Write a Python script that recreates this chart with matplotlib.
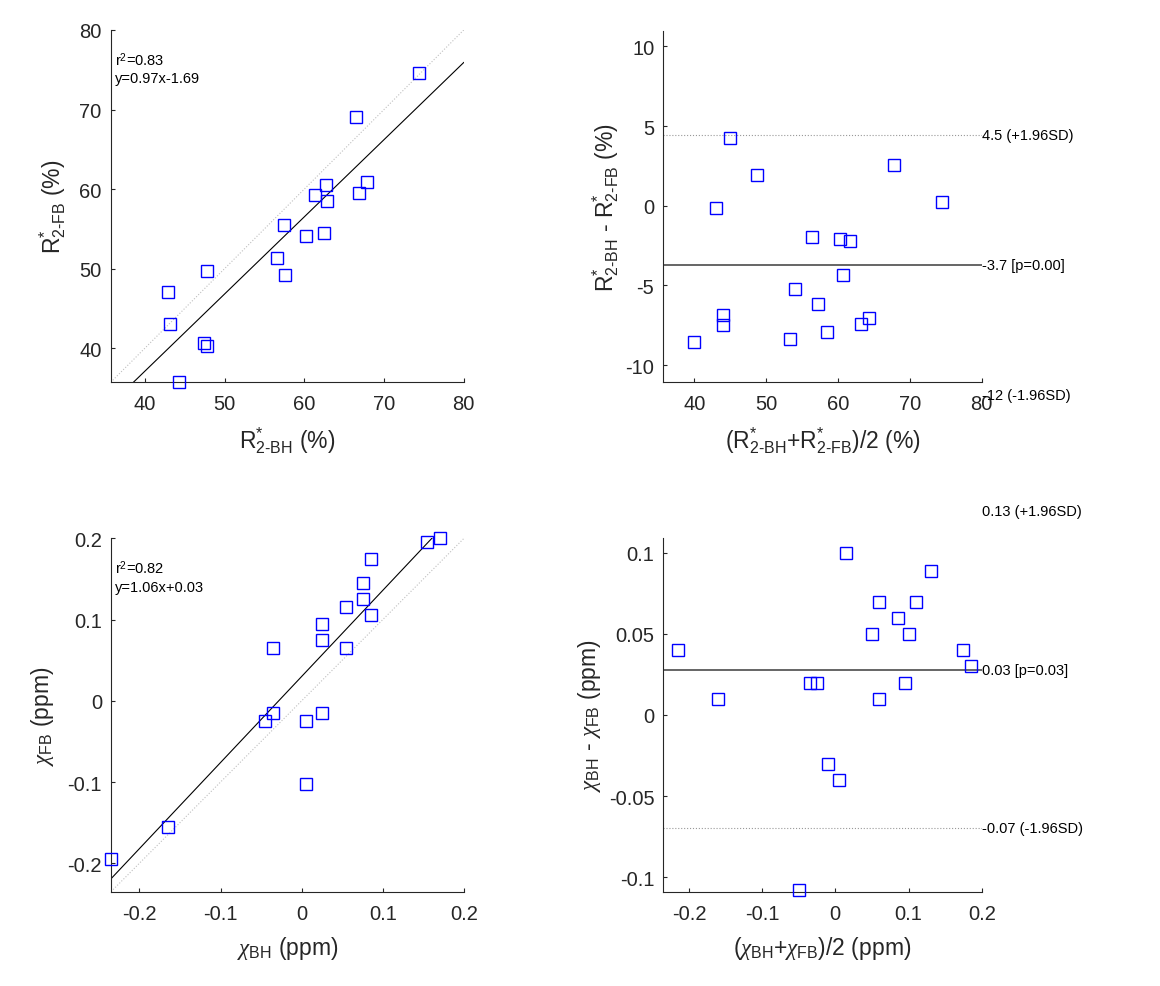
import numpy as np
import matplotlib
matplotlib.use("Agg")
import matplotlib.pyplot as plt

# ---------------- data ----------------
r2_bh = [74.33, 66.53, 67.90, 66.90, 62.73, 61.40, 62.86, 62.44, 60.27,
         57.43, 56.60, 57.56, 47.76, 42.84, 43.17, 47.47, 47.76, 44.25]
r2_fb = [74.56, 69.08, 60.84, 59.50, 60.50, 59.29, 58.49, 54.52, 54.10,
         55.48, 51.38, 49.20, 49.67, 47.07, 43.01, 40.59, 40.29, 35.73]

chi_bh = [0.170, 0.155, 0.086, 0.075, 0.075, 0.085, 0.055, 0.025, 0.025,
          0.055, -0.035, -0.035, -0.045, 0.005, 0.025, 0.005, -0.165, -0.235]
chi_fb = [0.200, 0.195, 0.175, 0.145, 0.125, 0.105, 0.115, 0.095, 0.075,
          0.065, 0.065, -0.015, -0.025, -0.025, -0.015, -0.103, -0.155, -0.195]

r2_fit = (0.97, -1.69)      # slope, intercept
r2_r2 = 0.83
chi_fit = (1.06, 0.03)
chi_r2 = 0.82

# Bland-Altman lines: upper (+1.96SD), mean, lower (-1.96SD)
r2_ba_lines = [4.45, -3.70, -11.85]
chi_ba_lines = [0.126, 0.028, -0.070]
p_values = ["0.00", "0.03"]

r2_ticks = [40, 50, 60, 70, 80]
r2_diff_ticks = [-10, -5, 0, 5, 10]
chi_ticks = [-0.2, -0.1, 0, 0.1, 0.2]
chi_diff_ticks = [-0.1, -0.05, 0, 0.05, 0.1]

# ---------------- style ----------------
plt.rcParams['font.family'] = ['Liberation Sans', 'DejaVu Sans']
plt.rcParams['mathtext.fontset'] = 'custom'
plt.rcParams['mathtext.rm'] = 'Liberation Sans'
plt.rcParams['mathtext.it'] = 'Liberation Serif:italic'
plt.rcParams['mathtext.bf'] = 'Liberation Sans:bold'
plt.rcParams['axes.unicode_minus'] = False

AX_COL = '0.15'
TICK_FS = 14.5
LAB_FS = 16.5
SMALL_FS = 10.5

fig = plt.figure(figsize=(11.6, 9.87), dpi=100)
W, H = 1160.0, 987.0


def make_ax(l, t, r, b):
    return fig.add_axes([l / W, 1 - b / H, (r - l) / W, (b - t) / H])


def style(ax, xt, yt, xl, yl):
    for s in ['top', 'right']:
        ax.spines[s].set_visible(False)
    for s in ['left', 'bottom']:
        ax.spines[s].set_color(AX_COL)
        ax.spines[s].set_linewidth(0.8)
    ax.set_xticks(xt)
    ax.set_yticks(yt)
    ax.set_xticklabels([('%g' % v) for v in xt])
    ax.set_yticklabels([('%g' % v) for v in yt])
    ax.tick_params(direction='in', length=3, width=0.8, colors=AX_COL,
                   labelsize=TICK_FS, labelcolor='0.15')
    ax.tick_params(axis='x', pad=8.5)
    ax.tick_params(axis='y', pad=6.5)
    ax.set_xlim(xl)
    ax.set_ylim(yl)


def scatter(ax, x, y):
    ax.plot(x, y, linestyle='none', marker='s', ms=8.6, mfc='none',
            mec='blue', mew=1.0, clip_on=False, zorder=3)


def corr_panel(ax, x, y, fit, r2, lim, ticks, xlabel, ylabel, ypad):
    style(ax, ticks, ticks, lim, lim)
    xs = np.array(lim)
    ax.plot(xs, xs, linestyle=':', color='0.75', lw=0.8, zorder=1)
    ax.plot(xs, fit[0] * xs + fit[1], color='k', lw=0.8, zorder=2)
    scatter(ax, x, y)
    sign = '+' if fit[1] >= 0 else '-'
    ax.text(0.012, 0.918, r'r$^{2}$=%.2f' % r2, transform=ax.transAxes,
            fontsize=SMALL_FS, va='center', ha='left')
    ax.text(0.012, 0.863, 'y=%.2fx%s%.2f' % (fit[0], sign, abs(fit[1])),
            transform=ax.transAxes, fontsize=SMALL_FS, va='center', ha='left')
    ax.set_xlabel(xlabel, fontsize=LAB_FS, color='0.15', labelpad=8)
    ax.set_ylabel(ylabel, fontsize=LAB_FS, color='0.15', labelpad=ypad)


def ba_panel(ax, a, b, lines, xlim, ylim, xt, yt, fmt, pval, xlabel, ylabel, ypad):
    a = np.asarray(a)
    b = np.asarray(b)
    m = (a + b) / 2
    d = b - a
    up, mu, lo = lines
    style(ax, xt, yt, xlim, ylim)
    ax.plot(xlim, [mu, mu], color='0.35', lw=1.3, zorder=1)
    ax.plot(xlim, [up, up], color='0.6', lw=0.8, linestyle=':', zorder=1)
    ax.plot(xlim, [lo, lo], color='0.6', lw=0.8, linestyle=':', zorder=1)
    scatter(ax, m, d)
    kw = dict(fontsize=SMALL_FS, va='center', ha='left', clip_on=False)
    ax.text(xlim[1], up, (fmt % up) + ' (+1.96SD)', **kw)
    ax.text(xlim[1], mu, (fmt % mu) + ' [p=%s]' % pval, **kw)
    ax.text(xlim[1], lo, (fmt % lo) + ' (-1.96SD)', **kw)
    ax.set_xlabel(xlabel, fontsize=LAB_FS, color='0.15', labelpad=8)
    ax.set_ylabel(ylabel, fontsize=LAB_FS, color='0.15', labelpad=ypad)


R_BH = r'R$^{*}_{\mathrm{2\text{-}BH}}$'
R_FB = r'R$^{*}_{\mathrm{2\text{-}FB}}$'
C_BH = r'$\chi_{\mathrm{BH}}$'
C_FB = r'$\chi_{\mathrm{FB}}$'

ax1 = make_ax(110.7, 31, 463.7, 383.3)
corr_panel(ax1, r2_bh, r2_fb, r2_fit, r2_r2, (35.7, 80), r2_ticks,
           R_BH + ' (%)', R_FB + ' (%)', 8)

ax2 = make_ax(663.3, 31.5, 981.7, 383.3)
ba_panel(ax2, r2_bh, r2_fb, r2_ba_lines, (35.7, 80), (-11.08, 11.0), r2_ticks,
         r2_diff_ticks, '%.2g', p_values[0],
         '(' + R_BH + '+' + R_FB + ')/2 (%)', R_BH + ' - ' + R_FB + ' (%)', 3)

ax3 = make_ax(111, 539.3, 464, 892.7)
corr_panel(ax3, chi_bh, chi_fb, chi_fit, chi_r2, (-0.235, 0.2), chi_ticks,
           C_BH + ' (ppm)', C_FB + ' (ppm)', 8)

ax4 = make_ax(663.3, 539.3, 981.7, 892.7)
ba_panel(ax4, chi_bh, chi_fb, chi_ba_lines, (-0.235, 0.2), (-0.109, 0.109), chi_ticks,
         chi_diff_ticks, '%.2f', p_values[1],
         '(' + C_BH + '+' + C_FB + ')/2 (ppm)', C_BH + ' - ' + C_FB + ' (ppm)', 4)

fig.savefig('out.png', dpi=100)
